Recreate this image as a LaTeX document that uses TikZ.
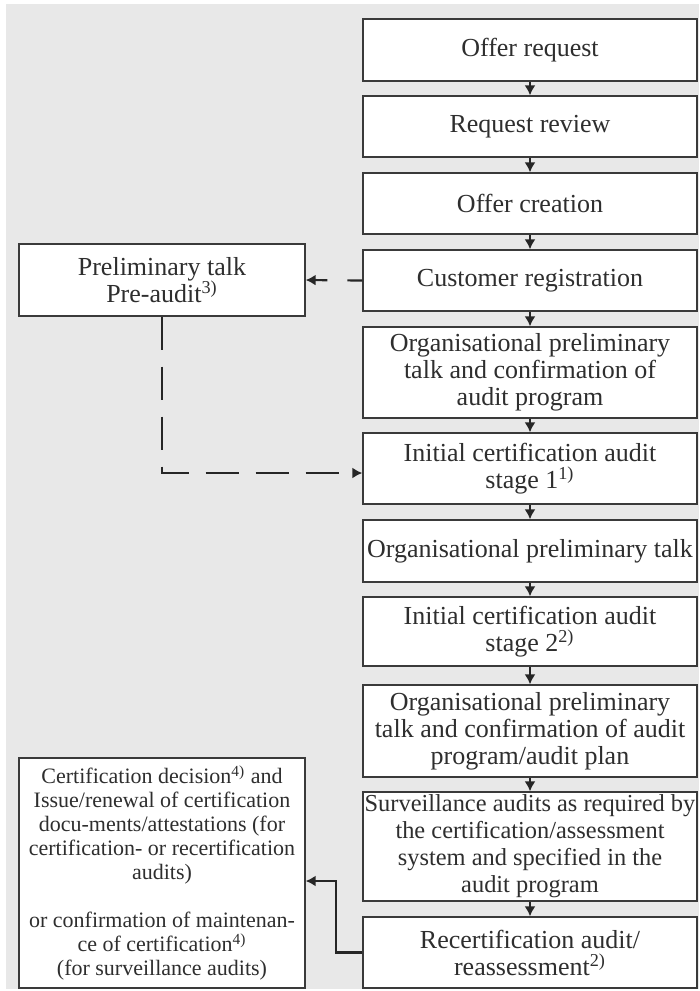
\documentclass[tikz,border=0pt]{standalone}
\usepackage{fontspec}
\setmainfont{Liberation Serif}
\usetikzlibrary{arrows.meta}
\definecolor{bggray}{HTML}{E8E8E8}
\definecolor{linegray}{HTML}{3A3A3A}
\definecolor{txtgray}{HTML}{2E2E2E}

\begin{document}
\begin{tikzpicture}[x=0.5pt,y=-0.5pt,
   stepbox/.style={draw=linegray,line width=0.65pt,fill=white,text=txtgray,align=center,
     minimum width=167pt,inner xsep=0pt,inner ysep=0pt,font=\fontsize{13}{13.5}\selectfont},
   sidebox/.style={stepbox,minimum width=143pt},
   flow/.style={draw=black!85,line width=1.1pt,-{Latex[length=5pt,width=5.5pt]}},
   dashflow/.style={flow,dash pattern=on 16.5pt off 8.5pt}]
   \useasboundingbox (0,0) rectangle (700,991);
   \fill[bggray] (6,4) rectangle (699,989);
   \node[stepbox,minimum height=31pt]   (req)      at (530,50)    {Offer request};
   \node[stepbox,minimum height=30.5pt] (review)   at (530,126.5) {Request review};
   \node[stepbox,minimum height=30.5pt] (offer)    at (530,203.5) {Offer creation};
   \node[stepbox,minimum height=30.5pt] (register) at (530,280.5) {Customer registration};
   \node[stepbox,minimum height=45.5pt] (orgtalk)  at (530,372.5) {Organisational preliminary\\talk and confirmation of\\audit program};
   \node[stepbox,minimum height=35.5pt] (init1)    at (530,468.5) {Initial certification audit\\stage 1\textsuperscript{1)}};
   \node[stepbox,minimum height=31pt]   (talk)     at (530,551)   {Organisational preliminary talk};
   \node[stepbox,minimum height=34.5pt] (init2)    at (530,631.5) {Initial certification audit\\stage 2\textsuperscript{2)}};
   \node[stepbox,minimum height=46pt]   (orgplan)  at (530,731)   {Organisational preliminary\\talk and confirmation of audit\\program/audit plan};
   \node[stepbox,minimum height=54.5pt,font=\fontsize{12.2}{13.5}\selectfont] (surveil) at (530,846.5)
         {Surveillance audits as required by\\the certification/assessment\\system and specified in the\\audit program};
   \node[stepbox,minimum height=35.5pt] (recert)   at (530,952.5) {Recertification audit/\\reassessment\textsuperscript{2)}};
   \node[sidebox,minimum height=36pt]   (pre)      at (162,280)   {Preliminary talk\\Pre-audit\textsuperscript{3)}};
   \node[sidebox,minimum height=115pt,font=\fontsize{11}{12}\selectfont] (cert) at (162,873)
         {Certification decision\textsuperscript{4)} and\\Issue/renewal of certification\\docu-ments/attestations (for\\certification- or recertification\\audits)\\[12pt]or confirmation of maintenan-\\ce of certification\textsuperscript{4)}\\(for surveillance audits)};
   \draw[flow] (req) -- (review);
   \draw[flow] (review) -- (offer);
   \draw[flow] (offer) -- (register);
   \draw[flow] (register) -- (orgtalk);
   \draw[flow] (orgtalk) -- (init1);
   \draw[flow] (init1) -- (talk);
   \draw[flow] (talk) -- (init2);
   \draw[flow] (init2) -- (orgplan);
   \draw[flow] (orgplan) -- (surveil);
   \draw[flow] (surveil) -- (recert);
   \draw[flow,dash pattern=on 7.5pt off 10pt on 20pt off 0pt] (register.west) -- (pre.east);
   \draw[dashflow] (pre.south) |- ([yshift=-2.25pt]init1.west);
   \draw[flow] (recert.west) -- ++(-26,0) |- ([yshift=-4pt]cert.east);
\end{tikzpicture}
\end{document}
